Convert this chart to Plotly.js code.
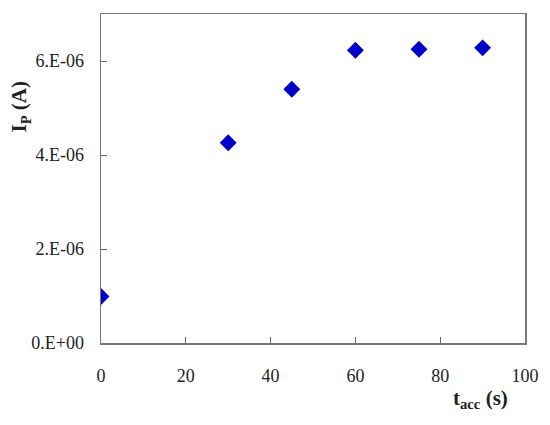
<!DOCTYPE html>
<html><head><meta charset="utf-8">
<script src="https://cdn.plot.ly/plotly-3.0.1.min.js"></script>
<style>body{margin:0}#c{width:550px;height:425px}</style>
</head><body><div id="c"></div>
<script>
const tacc = [0, 30, 45, 60, 75, 90];
const ip = [0.99e-6, 4.26e-6, 5.40e-6, 6.23e-6, 6.25e-6, 6.28e-6];
const yTickVals = [0, 2e-6, 4e-6, 6e-6];
const yTickText = ['0.E+00', '2.E-06', '4.E-06', '6.E-06'];
const xTickVals = [0, 20, 40, 60, 80, 100];

const fam = '"Liberation Serif", "DejaVu Serif", serif';
const font = {family: fam, size: 18, color: '#222'};
Plotly.newPlot('c', [{
  x: tacc, y: ip, type: 'scatter', mode: 'markers',
  marker: {symbol: 'diamond', size: 13, color: '#0000c8'}
}], {
  width: 550, height: 425,
  margin: {l: 101, r: 25, t: 14, b: 82},
  paper_bgcolor: '#fff', plot_bgcolor: '#fff',
  showlegend: false,
  font: font,
  xaxis: {range: [0, 100], tickvals: xTickVals, ticks: 'inside', ticklen: 6, tickcolor: '#666',
          showline: true, mirror: true, linecolor: '#777', linewidth: 1.5, showgrid: false, zeroline: false,
          ticklabelstandoff: 16, tickfont: font},
  yaxis: {range: [0, 7e-6], tickvals: yTickVals, ticktext: yTickText, ticks: 'inside', ticklen: 6, tickcolor: '#666',
          showline: true, mirror: true, linecolor: '#777', linewidth: 1.5, showgrid: false, zeroline: false,
          ticklabelstandoff: 12, tickfont: font},
  annotations: [
    {text: '<b>I<sub>P</sub> (A)</b>', textangle: -90, xref: 'paper', yref: 'paper', x: -0.19, y: 0.72,
     xanchor: 'center', yanchor: 'middle', showarrow: false, font: {family: fam, size: 21, color: '#222'}},
    {text: '<b>t<sub>acc</sub> (s)</b>', xref: 'paper', yref: 'paper', x: 0.894, y: -0.17,
     xanchor: 'center', yanchor: 'middle', showarrow: false, font: {family: fam, size: 21, color: '#222'}}
  ]
}, {staticPlot: true});
</script></body></html>
